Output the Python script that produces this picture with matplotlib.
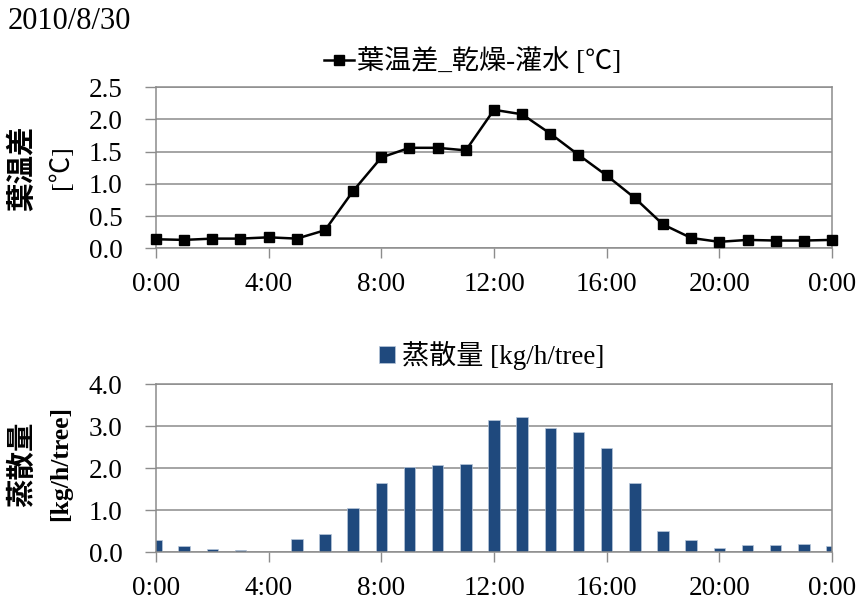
import numpy as np
import matplotlib.pyplot as plt

# hourly data, 2010/8/30 (0:00 .. 24:00)
hours = np.arange(0, 25)
leaf_temp_diff = [0.14, 0.13, 0.15, 0.15, 0.17, 0.15, 0.28, 0.89, 1.41, 1.56,
                  1.56, 1.52, 2.15, 2.08, 1.78, 1.45, 1.13, 0.78, 0.37, 0.16,
                  0.10, 0.13, 0.12, 0.12, 0.13]
transpiration = [0.29, 0.15, 0.07, 0.05, 0.0, 0.32, 0.44, 1.05, 1.64, 2.02,
                 2.07, 2.10, 3.15, 3.23, 2.95, 2.86, 2.48, 1.64, 0.50, 0.30,
                 0.11, 0.17, 0.18, 0.19, 0.15]
tick_hours = [0, 4, 8, 12, 16, 20, 24]
tick_labels = ["0:00", "4:00", "8:00", "12:00", "16:00", "20:00", "0:00"]

serif = ['Liberation Serif', 'Noto Sans CJK JP']
cjk = ['Noto Sans CJK JP', 'Liberation Serif']
grid_c = '#8c8c8c'
bar_c = '#1f497d'
fs = 19.5

fig = plt.figure(figsize=(8.58, 6.01), dpi=100)


def style_axes(ax, ymax, ystep, fmt):
    ax.set_xlim(0, 24)
    ax.set_ylim(0, ymax)
    ax.set_xticks(tick_hours)
    ax.set_xticklabels(tick_labels, fontfamily=serif, fontsize=fs)
    yt = np.arange(0, ymax + ystep / 2, ystep)
    ax.set_yticks(yt)
    ax.set_yticklabels([fmt.format(v) for v in yt], fontfamily=serif, fontsize=fs)
    ax.tick_params(axis='x', direction='out', length=7, width=1, color=grid_c, pad=10)
    ax.tick_params(axis='y', direction='out', length=8, width=1, color=grid_c, pad=16)
    ax.yaxis.grid(True, color=grid_c, linewidth=1.1)
    ax.set_axisbelow(True)
    for s in ax.spines.values():
        s.set_color(grid_c)
        s.set_linewidth(1.1)


# leaf temperature difference (dry - irrigated)
ax1 = fig.add_axes([0.1818, 0.5869, 0.7879, 0.2679])
ax1.plot(hours, leaf_temp_diff, color='black', linewidth=1.8, marker='s',
         markersize=7.5, clip_on=False, zorder=3,
         label='葉温差_乾燥-灌水 [℃]')
style_axes(ax1, 2.5, 0.5, "{:.1f}")
ax1.legend(loc='center', bbox_to_anchor=(0.551, 0.897), bbox_transform=fig.transFigure,
           frameon=False, prop={'family': serif, 'size': 19.5}, handlelength=1.1,
           handletextpad=0.1, borderpad=0)

# transpiration
ax2 = fig.add_axes([0.1818, 0.0810, 0.7879, 0.2795])
ax2.bar(hours, transpiration, width=0.41, color=bar_c, edgecolor='#b9c7da',
        linewidth=0.5, label='蒸散量 [kg/h/tree]')
style_axes(ax2, 4.0, 1.0, "{:.1f}")
ax2.legend(loc='center', bbox_to_anchor=(0.573, 0.408), bbox_transform=fig.transFigure,
           frameon=False, prop={'family': serif, 'size': 19.5}, handlelength=0.6,
           handleheight=0.6, handletextpad=0.25, borderpad=0)

# y axis titles
fig.text(0.026, 0.72, '葉温差', rotation=90, ha='center', va='center',
         fontfamily=cjk, fontweight='bold', fontsize=20.5)
fig.text(0.071, 0.722, '[℃]', rotation=90, ha='center', va='center',
         fontfamily=serif, fontsize=19)
fig.text(0.026, 0.228, '蒸散量', rotation=90, ha='center', va='center',
         fontfamily=cjk, fontweight='bold', fontsize=20.5)
fig.text(0.071, 0.228, '[kg/h/tree]', rotation=90, ha='center', va='center',
         fontfamily=serif, fontweight='bold', fontsize=18.5)

fig.text(0.009, 0.988, '2010/8/30', ha='left', va='top', fontfamily=serif, fontsize=22)

fig.savefig('out.png', dpi=100)
